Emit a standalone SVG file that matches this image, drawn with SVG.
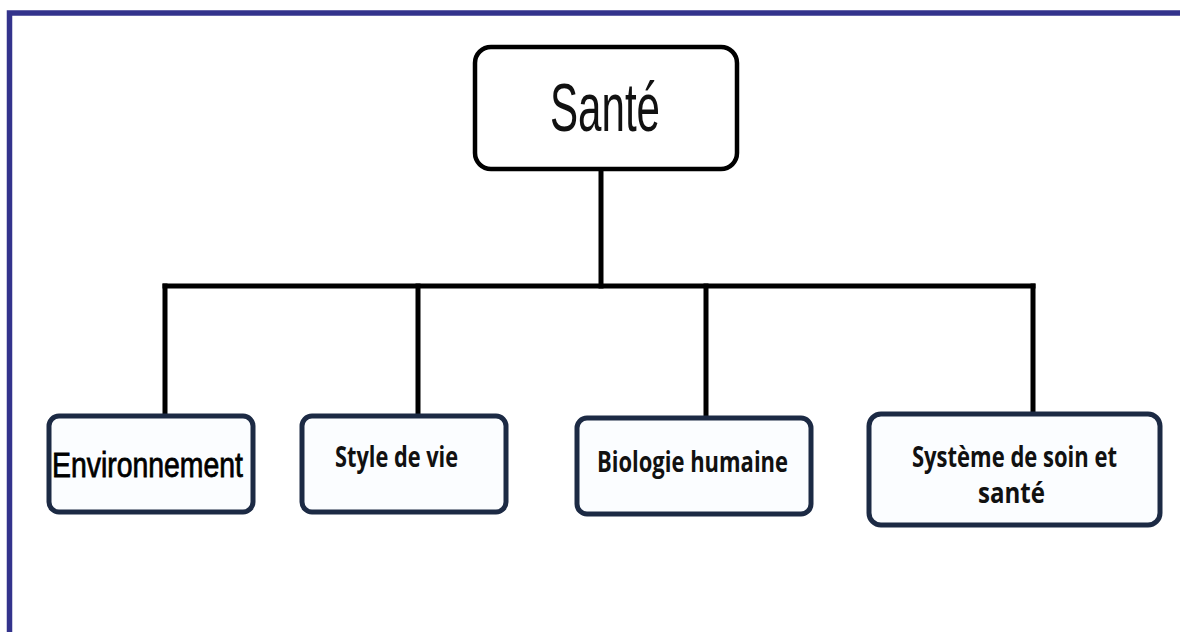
<svg xmlns="http://www.w3.org/2000/svg" width="1180" height="632" viewBox="0 0 1180 632">
  <style>
    .frame { fill: none; stroke: #33338c; stroke-width: 5.5; }
    .conn { fill: none; stroke: #000; stroke-width: 5; stroke-linecap: square; }
    .top { fill: #fff; stroke: #000; stroke-width: 4.5; }
    .leaf { fill: #fbfdff; stroke: #1c2a44; stroke-width: 5; }
    .ttl { font-family: "Liberation Sans", Arial, sans-serif; font-size: 68px; fill: #111; }
    .env { font-family: "Liberation Sans", Arial, sans-serif; font-size: 35px; fill: #000; stroke: #000; stroke-width: 0.8; }
    .lbl { font-family: "Open Sans", "Noto Sans", sans-serif; font-size: 29px; font-weight: 700; fill: #111; }
  </style>
  <rect width="1180" height="632" fill="#fff"/>
  <path class="frame" d="M9.5,632 V13 H1180"/>
  <g id="connectors">
    <line class="conn" x1="601" y1="170" x2="601" y2="286"/>
    <line class="conn" x1="165" y1="286" x2="1033" y2="286"/>
    <line class="conn" x1="165" y1="286" x2="165" y2="415"/>
    <line class="conn" x1="418" y1="286" x2="418" y2="415"/>
    <line class="conn" x1="706" y1="286" x2="706" y2="417"/>
    <line class="conn" x1="1033" y1="286" x2="1033" y2="413"/>
  </g>
  <g id="sante">
    <rect class="top" x="475" y="47" width="262" height="122" rx="16"/>
    <text class="ttl" x="550" y="131" textLength="110" lengthAdjust="spacingAndGlyphs">Santé</text>
  </g>
  <g id="environnement">
    <rect class="leaf" x="49" y="416" width="204" height="96" rx="10"/>
    <text class="env" x="52" y="477" textLength="191" lengthAdjust="spacingAndGlyphs">Environnement</text>
  </g>
  <g id="style-de-vie">
    <rect class="leaf" x="302" y="416" width="204" height="96" rx="10"/>
    <text class="lbl" x="335" y="467" textLength="123" lengthAdjust="spacingAndGlyphs">Style de vie</text>
  </g>
  <g id="biologie-humaine">
    <rect class="leaf" x="577" y="418" width="234" height="96" rx="10"/>
    <text class="lbl" x="597" y="472" textLength="191" lengthAdjust="spacingAndGlyphs">Biologie humaine</text>
  </g>
  <g id="systeme-de-soin">
    <rect class="leaf" x="869" y="414" width="291" height="111" rx="12"/>
    <text class="lbl" x="912" y="467" textLength="205" lengthAdjust="spacingAndGlyphs">Système de soin et</text>
    <text class="lbl" x="978" y="503" textLength="67" lengthAdjust="spacingAndGlyphs">santé</text>
  </g>
</svg>
